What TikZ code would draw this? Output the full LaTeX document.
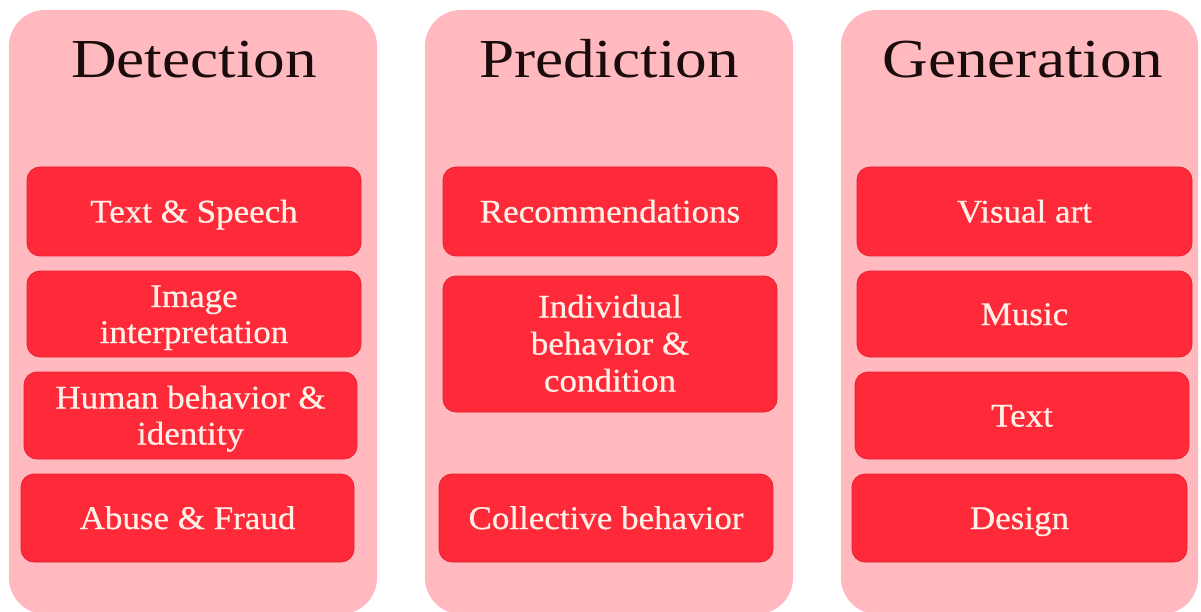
\documentclass[tikz,border=0pt]{standalone}
\usepackage{fontspec}
\setmainfont{Liberation Serif}
\newfontfamily\headfont[FakeStretch=1.15]{Liberation Serif}
\newfontfamily\itemfont[FakeStretch=1.06, FakeBold=0.6]{Liberation Serif}
\definecolor{panelpink}{HTML}{FFB9BF}
\definecolor{itemred}{HTML}{FF2A39}
\definecolor{itemedge}{HTML}{E8202F}
\definecolor{itemtext}{HTML}{FFF0E8}
\definecolor{headtext}{HTML}{1A0C0C}
\tikzset{
  panel/.style={fill=panelpink, draw=none, rounded corners=36pt, inner sep=0pt},
  head/.style={font=\headfont\fontsize{55}{60}\selectfont, text=headtext, inner sep=0pt, anchor=base},
  item/.style={fill=itemred, draw=itemedge, line width=0.8pt, rounded corners=13pt,
    inner sep=0pt, align=center, text=itemtext, text depth=0pt, text height=22pt,
    font=\itemfont\fontsize{33}{36}\selectfont},
  twolines/.style={text height=58pt},
  threelines/.style={text height=95pt, font=\itemfont\fontsize{33}{37}\selectfont},
}
\newcommand{\itembox}[7][]{% options, name, x1, y1, x2, y2, text
  \node[item, #1, minimum width=#5pt-#3pt, minimum height=#6pt-#4pt]
    (#2) at ({(#3+#5)/2}, {(#4+#6)/2}) {#7};}
\begin{document}
\begin{tikzpicture}[x=1pt, y=-1pt]
\useasboundingbox (0,0) rectangle (1201,612);
\fill[white] (0,0) rectangle (1201,612);

% column panels
\node[panel, minimum width=368pt, minimum height=604pt] (pdet) at (193,312) {};
\node[panel, minimum width=368pt, minimum height=604pt] (ppre) at (609,312) {};
\node[panel, minimum width=357pt, minimum height=604pt] (pgen) at (1019.5,312) {};

% column headings
\node[head] (hdet) at (194,78) {Detection};
\node[head] (hpre) at (609,78) {Prediction};
\node[head] (hgen) at (1023,78) {Generation};

% Detection
\itembox{d1}{27}{167}{361}{256}{Text \& Speech}
\itembox[twolines]{d2}{27}{271}{361}{357}{Image\\interpretation}
\itembox[twolines]{d3}{24}{372}{357}{459}{Human behavior \&\\identity}
\itembox{d4}{21}{474}{354}{562}{Abuse \& Fraud}

% Prediction
\itembox{p1}{443}{167}{777}{256}{Recommendations}
\itembox[threelines]{p2}{443}{276}{777}{412}{Individual\\behavior \&\\condition}
\itembox{p3}{439}{474}{773}{562}{Collective behavior}

% Generation
\itembox{g1}{857}{167}{1192}{256}{Visual art}
\itembox{g2}{857}{271}{1192}{357}{Music}
\itembox{g3}{855}{372}{1189}{459}{Text}
\itembox{g4}{852}{474}{1187}{562}{Design}
\end{tikzpicture}
\end{document}
